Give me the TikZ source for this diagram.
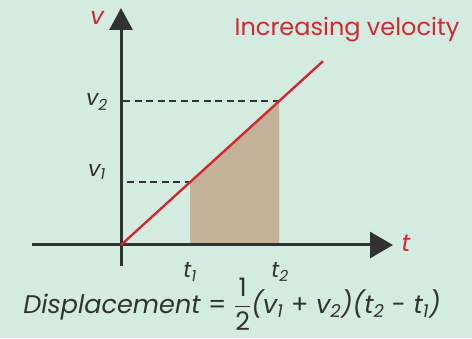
\documentclass[tikz,border=0pt]{standalone}
\usepackage{amsmath}
\usepackage{fontspec}
\setmainfont{Poppins}
\usetikzlibrary{arrows.meta}
\begin{document}
\begin{tikzpicture}[x=1pt, y=1pt, line cap=butt, line join=round]
  \definecolor{bgmint}{RGB}{212,235,224}
  \definecolor{velred}{RGB}{210,40,50}
  \definecolor{axisgray}{RGB}{50,50,50}
  \definecolor{areatan}{RGB}{196,178,152}
  \fill[bgmint] (0,0) rectangle (472,338);
  \useasboundingbox (0,0) rectangle (472,338);
  \coordinate (O) at (121,93);
  \coordinate (T1) at (190,93);
  \coordinate (T2) at (279,93);
  \coordinate (P1) at (190,155.8);
  \coordinate (P2) at (279,236.8);
  \coordinate (V1) at (127,155.8);
  \coordinate (V2) at (123,236.8);
  \coordinate (E) at (323,276.8);
  \fill[areatan] (T1)--(P1)--(P2)--(T2)--cycle;
  \draw[axisgray, line width=3pt, -{Triangle[width=23pt,length=22pt]}] (121,72)--(121,330);
  \draw[axisgray, line width=3pt, -{Triangle[width=26pt,length=23pt]}] (32,93)--(393,93);
  \draw[axisgray, line width=2.6pt, dash pattern=on 7pt off 4.5pt] (V1)--(P1);
  \draw[axisgray, line width=2.6pt, dash pattern=on 7pt off 4.5pt] (V2)--(P2);
  \draw[velred, line width=2.4pt] (O)--(E);
  \node[velred] at (97,320) {\fontsize{24}{28}\selectfont\itshape v};
  \node[velred] at (406,95) {\fontsize{24}{28}\selectfont\itshape t};
  \node[axisgray] at (97,236) {\fontsize{22}{26}\selectfont\itshape v\textsubscript{2}};
  \node[axisgray] at (97,166) {\fontsize{22}{26}\selectfont\itshape v\textsubscript{1}};
  \node[axisgray] at (190,66) {\fontsize{22}{26}\selectfont\itshape t\textsubscript{1}};
  \node[axisgray] at (280,66) {\fontsize{22}{26}\selectfont\itshape t\textsubscript{2}};
  \node[velred] at (347,308) {\fontsize{24}{28}\selectfont Increasing velocity};
  \node[axisgray, anchor=base, inner sep=0pt] at (232,25) {\fontsize{25.5}{30}\selectfont\itshape Displacement
    {\upshape =} $\dfrac{\text{\upshape 1}}{\text{\upshape 2}}$(v\textsubscript{1}
    {\upshape +} v\textsubscript{2})(t\textsubscript{2} {\upshape -} t\textsubscript{1})};
\end{tikzpicture}
\end{document}
